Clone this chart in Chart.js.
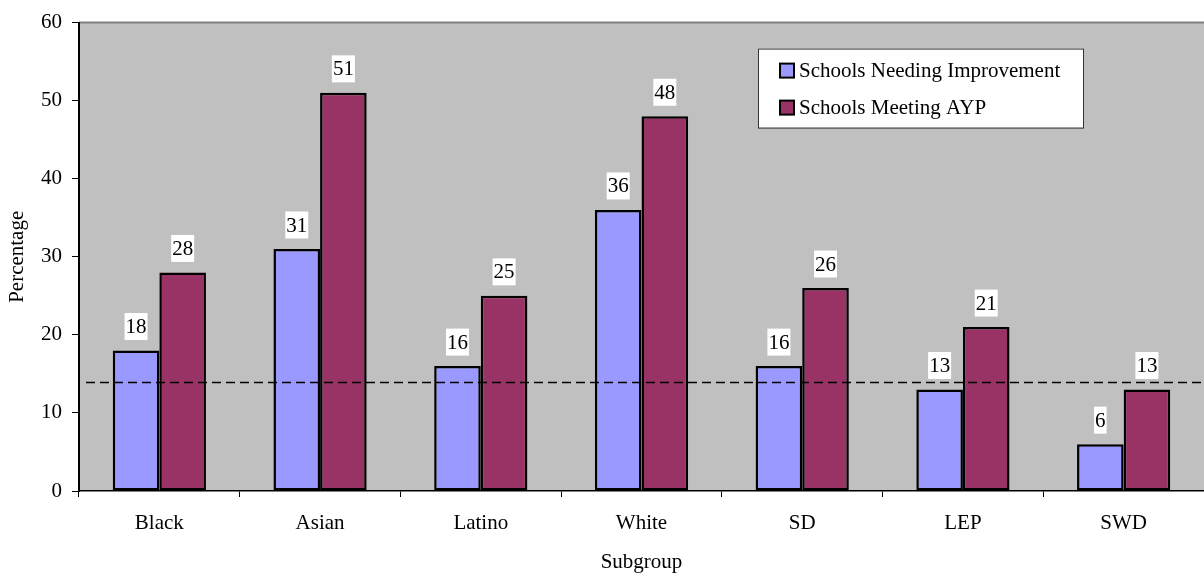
<!DOCTYPE html>
<html>
<head>
<meta charset="utf-8">
<script src="https://cdn.jsdelivr.net/npm/chart.js@4.4.1/dist/chart.umd.min.js"></script>
<style>
  html, body { margin: 0; padding: 0; background: #fff; }
  #wrap { width: 1204px; height: 575px; }
</style>
</head>
<body>
<div id="wrap"><canvas id="chart"></canvas></div>
<script>
// gegevens uit de grafiek
const subgroups = ['Black', 'Asian', 'Latino', 'White', 'SD', 'LEP', 'SWD'];
const needingImprovement = [18, 31, 16, 36, 16, 13, 6];
const meetingAYP = [28, 51, 25, 48, 26, 21, 13];
const benchmark = 13.9;
const yMin = 0, yMax = 60, yStep = 10;

const serif = "'Liberation Serif', 'Times New Roman', serif";

// grijze achtergrond van het plotgebied
const plotBackground = {
    id: 'plotBackground',
    beforeDraw(chart) {
        const { ctx, chartArea: a } = chart;
        ctx.save();
        ctx.fillStyle = '#c0c0c0';
        ctx.fillRect(a.left, a.top, a.right - a.left, a.bottom - a.top);
        ctx.strokeStyle = '#808080';
        ctx.lineWidth = 2;
        ctx.beginPath();
        ctx.moveTo(a.left, a.top);
        ctx.lineTo(a.right, a.top);
        ctx.stroke();
        ctx.restore();
    }
};

// gestippelde referentielijn
const benchmarkLine = {
    id: 'benchmarkLine',
    afterDatasetsDraw(chart) {
        const { ctx, chartArea: a } = chart;
        const y = chart.scales.y.getPixelForValue(benchmark);
        ctx.save();
        ctx.strokeStyle = '#000';
        ctx.lineWidth = 1.5;
        ctx.setLineDash([9, 5]);
        ctx.beginPath();
        ctx.moveTo(a.left + 7, y);
        ctx.lineTo(a.right, y);
        ctx.stroke();
        ctx.restore();
    }
};

// waarden boven de staven, op wit vlak
const barLabels = {
    id: 'barLabels',
    afterDraw(chart) {
        const ctx = chart.ctx;
        ctx.save();
        ctx.font = '21px ' + serif;
        ctx.textAlign = 'center';
        ctx.textBaseline = 'middle';
        chart.data.datasets.forEach((ds, i) => {
            chart.getDatasetMeta(i).data.forEach((bar, j) => {
                const txt = String(ds.data[j]);
                const w = ctx.measureText(txt).width + 2;
                const cy = bar.y - 24;
                ctx.fillStyle = '#fff';
                ctx.fillRect(bar.x - w / 2, cy - 13.5, w, 27);
                ctx.fillStyle = '#000';
                ctx.fillText(txt, bar.x, cy + 1);
            });
        });
        ctx.restore();
    }
};

// legenda met kader
const boxLegend = {
    id: 'boxLegend',
    afterDraw(chart) {
        const { ctx, chartArea: a } = chart;
        const left = a.right - 446, top = a.top + 26;
        ctx.save();
        ctx.fillStyle = '#fff';
        ctx.fillRect(left, top, 325, 79);
        ctx.strokeStyle = '#333';
        ctx.lineWidth = 1;
        ctx.strokeRect(left + 0.5, top + 0.5, 325, 79);
        ctx.font = '21px ' + serif;
        ctx.textBaseline = 'middle';
        chart.data.datasets.forEach((ds, i) => {
            const cy = top + 22 + i * 37;
            ctx.fillStyle = ds.backgroundColor;
            ctx.fillRect(left + 22, cy - 7, 14, 14);
            ctx.strokeStyle = '#000';
            ctx.lineWidth = 2;
            ctx.strokeRect(left + 22, cy - 7, 14, 14);
            ctx.fillStyle = '#000';
            ctx.fillText(ds.label, left + 41, cy + 1);
        });
        ctx.restore();
    }
};

new Chart(document.getElementById('chart'), {
    type: 'bar',
    data: {
        labels: subgroups,
        datasets: [
            {
                label: 'Schools Needing Improvement',
                data: needingImprovement,
                backgroundColor: '#9999ff',
                borderColor: '#000',
                borderWidth: 2.5,
                borderSkipped: false
            },
            {
                label: 'Schools Meeting AYP',
                data: meetingAYP,
                backgroundColor: '#993366',
                borderColor: '#000',
                borderWidth: 2.5,
                borderSkipped: false
            }
        ]
    },
    options: {
        responsive: true,
        maintainAspectRatio: false,
        animation: false,
        layout: { padding: { top: 21, right: 0, left: 0, bottom: 0 } },
        datasets: { bar: { categoryPercentage: 0.58, barPercentage: 1 } },
        plugins: {
            legend: { display: false },
            tooltip: { enabled: false }
        },
        scales: {
            x: {
                afterFit: s => { s.height = 84; },
                grid: { drawOnChartArea: false, drawTicks: true, tickLength: 6, color: '#000', lineWidth: 1 },
                border: { color: '#000', width: 1.5 },
                ticks: { color: '#000', font: { family: serif, size: 21 }, padding: 14 },
                title: { display: true, text: 'Subgroup', color: '#000', font: { family: serif, size: 21 }, padding: { top: 0, bottom: 0 } }
            },
            y: {
                min: yMin,
                max: yMax,
                afterFit: s => { s.width = 79; },
                grid: { drawOnChartArea: false, drawTicks: true, tickLength: 7, color: '#000', lineWidth: 1 },
                border: { color: '#000', width: 2 },
                ticks: { stepSize: yStep, color: '#000', font: { family: serif, size: 21 }, padding: 10 },
                title: { display: true, text: 'Percentage', color: '#000', font: { family: serif, size: 21 }, padding: { top: 5, bottom: 0 } }
            }
        }
    },
    plugins: [plotBackground, benchmarkLine, barLabels, boxLegend]
});
</script>
</body>
</html>
